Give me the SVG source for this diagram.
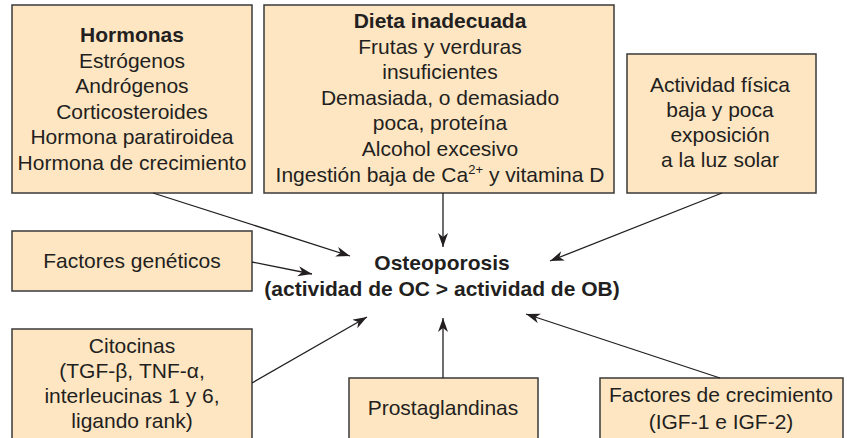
<svg xmlns="http://www.w3.org/2000/svg" width="847" height="438" viewBox="0 0 847 438">
<defs>
<marker id="ah" markerUnits="userSpaceOnUse" markerWidth="15" markerHeight="11" refX="14" refY="5" orient="auto" viewBox="0 0 15 11">
<path d="M0,0 L14,5 L0,10 L4,5 z" fill="#231f20"/>
</marker>
<style>
.box{fill:#fee6c3;stroke:#3a3a3a;stroke-width:1.5}
.t{font-family:"Liberation Sans",Arial,sans-serif;font-size:21px;fill:#231f20;text-anchor:middle}
.b{font-weight:bold}
.c line{stroke:#231f20;stroke-width:1.3;marker-end:url(#ah)}
</style>
</defs>
<rect width="847" height="438" fill="#ffffff"/>
<g id="hormonas">
<rect class="box" x="12" y="5" width="240" height="188"/>
<text class="t" x="132" y="42"><tspan class="b">Hormonas</tspan><tspan x="132" dy="25.5">Estrógenos</tspan><tspan x="132" dy="25.5">Andrógenos</tspan><tspan x="132" dy="25.5">Corticosteroides</tspan><tspan x="132" dy="25.5">Hormona paratiroidea</tspan><tspan x="132" dy="25.5">Hormona de crecimiento</tspan></text>
</g>
<g id="dieta">
<rect class="box" x="264" y="5" width="350" height="188"/>
<text class="t" x="440" y="28"><tspan class="b">Dieta inadecuada</tspan><tspan x="440" dy="25.6">Frutas y verduras</tspan><tspan x="440" dy="25.6">insuficientes</tspan><tspan x="440" dy="25.6">Demasiada, o demasiado</tspan><tspan x="440" dy="25.6">poca, proteína</tspan><tspan x="440" dy="25.6">Alcohol excesivo</tspan><tspan x="440" dy="25.6">Ingestión baja de Ca<tspan font-size="13" dy="-8">2+</tspan><tspan dy="8"> y vitamina D</tspan></tspan></text>
</g>
<g id="actividad">
<rect class="box" x="627" y="54" width="189" height="139"/>
<text class="t" x="720" y="92"><tspan>Actividad física</tspan><tspan x="720" dy="25">baja y poca</tspan><tspan x="720" dy="25">exposición</tspan><tspan x="720" dy="25">a la luz solar</tspan></text>
</g>
<g id="geneticos">
<rect class="box" x="12" y="231" width="240" height="60"/>
<text class="t" x="132" y="268">Factores genéticos</text>
</g>
<g id="osteoporosis">
<text class="t b" x="442" y="270">Osteoporosis</text>
<text class="t b" x="442" y="296">(actividad de OC &gt; actividad de OB)</text>
</g>
<g id="citocinas">
<rect class="box" x="12" y="329" width="240" height="120"/>
<text class="t" x="132" y="353"><tspan>Citocinas</tspan><tspan x="132" dy="25">(TGF-β, TNF-α,</tspan><tspan x="132" dy="25">interleucinas 1 y 6,</tspan><tspan x="132" dy="25">ligando rank)</tspan></text>
</g>
<g id="prostaglandinas">
<rect class="box" x="349" y="378" width="189" height="70"/>
<text class="t" x="443" y="415">Prostaglandinas</text>
</g>
<g id="crecimiento">
<rect class="box" x="600" y="378" width="243" height="70"/>
<text class="t" x="721" y="402"><tspan>Factores de crecimiento</tspan><tspan x="721" dy="27">(IGF-1 e IGF-2)</tspan></text>
</g>
<g id="connectors" class="c">
<line x1="153" y1="193" x2="350" y2="256"/>
<line x1="443" y1="193" x2="443" y2="247"/>
<line x1="722" y1="193" x2="550" y2="261"/>
<line x1="252" y1="262" x2="312" y2="274"/>
<line x1="252" y1="383" x2="367" y2="317"/>
<line x1="443" y1="378" x2="443" y2="318"/>
<line x1="720" y1="378" x2="526" y2="314"/>
</g>
</svg>
